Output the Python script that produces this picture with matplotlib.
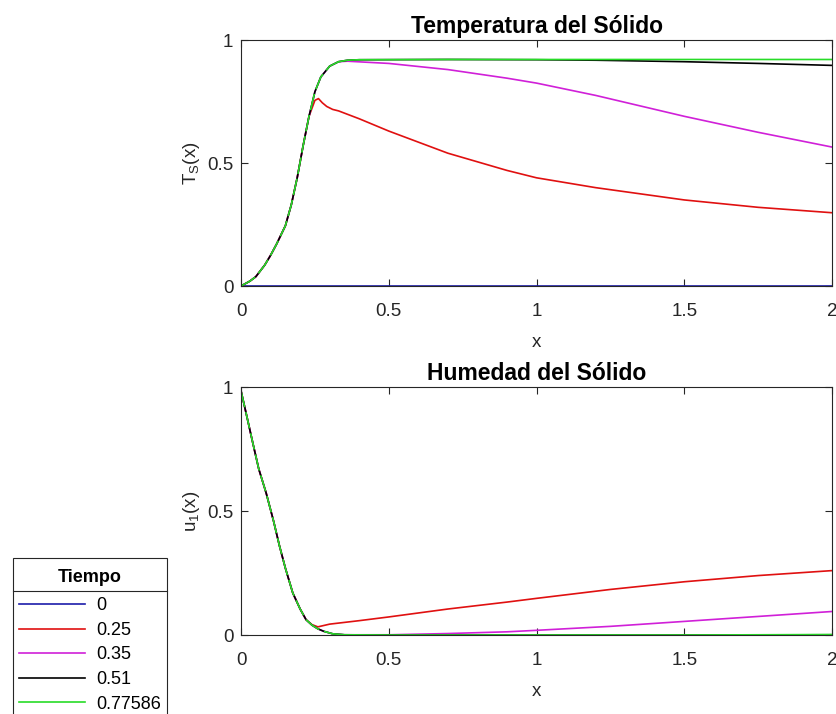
import numpy as np
import matplotlib
matplotlib.use("Agg")
import matplotlib.pyplot as plt
from matplotlib.lines import Line2D

plt.rcParams["font.family"] = ["Liberation Sans", "DejaVu Sans"]
plt.rcParams["mathtext.fontset"] = "custom"
plt.rcParams["mathtext.rm"] = "Liberation Sans"

# --------------------------------------------------
# datos
# --------------------------------------------------
tiempos = ["0", "0.25", "0.35", "0.51", "0.77586"]
colores = ["#1c1caa", "#e01010", "#d020d8", "#000000", "#28dc28"]

# Temperatura del solido
ts_x0 = [0, 2]
ts_y0 = [0, 0]
ts_x1 = [0, 0.03, 0.05, 0.08, 0.1, 0.12, 0.15, 0.17, 0.19, 0.21, 0.23, 0.25, 0.262,
         0.275, 0.29, 0.31, 0.33, 0.4, 0.5, 0.6, 0.7, 0.8, 0.9, 1.0, 1.2, 1.5, 1.75, 2.0]
ts_y1 = [0, 0.02, 0.038, 0.085, 0.125, 0.17, 0.245, 0.33, 0.44, 0.57, 0.69, 0.755, 0.762,
         0.745, 0.73, 0.718, 0.712, 0.68, 0.63, 0.585, 0.54, 0.505, 0.47, 0.44, 0.40, 0.35, 0.32, 0.298]
ts_x2 = [0, 0.03, 0.05, 0.08, 0.1, 0.12, 0.15, 0.17, 0.19, 0.21, 0.23, 0.25, 0.27, 0.3,
         0.33, 0.36, 0.5, 0.7, 0.9, 1.0, 1.2, 1.5, 1.75, 2.0]
ts_y2 = [0, 0.02, 0.038, 0.085, 0.125, 0.17, 0.245, 0.33, 0.44, 0.57, 0.69, 0.79, 0.85, 0.894,
         0.912, 0.914, 0.905, 0.88, 0.845, 0.825, 0.775, 0.69, 0.625, 0.565]
ts_x3 = [0, 0.03, 0.05, 0.08, 0.1, 0.12, 0.15, 0.17, 0.19, 0.21, 0.23, 0.25, 0.27, 0.3,
         0.33, 0.36, 0.4, 0.7, 1.0, 1.2, 1.5, 1.75, 2.0]
ts_y3 = [0, 0.02, 0.038, 0.085, 0.125, 0.17, 0.245, 0.33, 0.44, 0.57, 0.69, 0.79, 0.85, 0.894,
         0.912, 0.918, 0.92, 0.921, 0.92, 0.918, 0.912, 0.905, 0.897]
ts_x4 = [0, 0.03, 0.05, 0.08, 0.1, 0.12, 0.15, 0.17, 0.19, 0.21, 0.23, 0.25, 0.27, 0.3,
         0.33, 0.36, 0.4, 0.7, 1.0, 1.5, 2.0]
ts_y4 = [0, 0.02, 0.038, 0.085, 0.125, 0.17, 0.245, 0.33, 0.44, 0.57, 0.69, 0.79, 0.85, 0.894,
         0.912, 0.918, 0.92, 0.921, 0.921, 0.921, 0.921]

# Humedad del solido
u_x0 = [0, 2]
u_y0 = [1, 1]
u_x1 = [0, 0.02, 0.04, 0.06, 0.085, 0.11, 0.13, 0.15, 0.175, 0.2, 0.22, 0.24, 0.26,
        0.3, 0.4, 0.5, 0.7, 0.9, 1.0, 1.25, 1.5, 1.75, 2.0]
u_y1 = [0.985, 0.88, 0.774, 0.67, 0.573, 0.46, 0.36, 0.27, 0.17, 0.105, 0.062, 0.042, 0.033,
        0.044, 0.058, 0.073, 0.105, 0.133, 0.148, 0.184, 0.215, 0.24, 0.26]
u_x2 = [0, 0.02, 0.04, 0.06, 0.085, 0.11, 0.13, 0.15, 0.175, 0.2, 0.22, 0.24, 0.26, 0.28,
        0.31, 0.35, 0.5, 0.7, 0.9, 1.0, 1.25, 1.5, 1.75, 2.0]
u_y2 = [0.985, 0.88, 0.774, 0.67, 0.573, 0.46, 0.36, 0.27, 0.17, 0.105, 0.062, 0.04, 0.025, 0.015,
        0.005, 0.001, 0.001, 0.006, 0.013, 0.019, 0.035, 0.055, 0.075, 0.095]
u_x3 = [0, 0.02, 0.04, 0.06, 0.085, 0.11, 0.13, 0.15, 0.175, 0.2, 0.22, 0.24, 0.26, 0.28,
        0.31, 0.35, 0.5, 1.0, 1.5, 2.0]
u_y3 = [0.985, 0.88, 0.774, 0.67, 0.573, 0.46, 0.36, 0.27, 0.17, 0.105, 0.062, 0.04, 0.025, 0.015,
        0.005, 0.001, 0, 0, 0, 0.001]
u_x4 = u_x3
u_y4 = [0.985, 0.88, 0.774, 0.67, 0.573, 0.46, 0.36, 0.27, 0.17, 0.105, 0.062, 0.04, 0.025, 0.015,
        0.005, 0.001, 0, 0, 0, 0.002]

ts_series = [(ts_x0, ts_y0), (ts_x1, ts_y1), (ts_x2, ts_y2), (ts_x3, ts_y3), (ts_x4, ts_y4)]
u_series = [(u_x0, u_y0), (u_x1, u_y1), (u_x2, u_y2), (u_x3, u_y3), (u_x4, u_y4)]

# --------------------------------------------------
# figura
# --------------------------------------------------
fig = plt.figure(figsize=(8.37, 7.14), dpi=100)
ax1 = fig.add_axes([0.288, 0.5994, 0.706, 0.3445])
ax2 = fig.add_axes([0.288, 0.1106, 0.706, 0.347])

gris = "#262626"


def dibujar(ax, series, x_corte):
    for i, (xs, ys) in enumerate(series):
        xs = np.asarray(xs, dtype=float)
        ys = np.asarray(ys, dtype=float)
        if i == len(series) - 1:
            # la ultima curva tapa a las otras; se ve discontinua donde se solapan
            m1 = xs <= x_corte
            m2 = xs >= x_corte
            ax.plot(xs[m1], ys[m1], color=colores[i], lw=1.2, dashes=(10, 3))
            ax.plot(xs[m2], ys[m2], color=colores[i], lw=1.2)
        else:
            ax.plot(xs, ys, color=colores[i], lw=1.2, label=tiempos[i])
    ax.set_xlim(0, 2)
    ax.set_ylim(0, 1)
    ax.set_xticks([0, 0.5, 1, 1.5, 2])
    ax.set_xticklabels(["0", "0.5", "1", "1.5", "2"])
    ax.set_yticks([0, 0.5, 1])
    ax.set_yticklabels(["0", "0.5", "1"])
    ax.tick_params(direction="in", top=True, right=True, length=5, width=0.8,
                   labelsize=13.5, colors=gris, labelcolor=gris)
    ax.tick_params(axis="x", pad=12.5)
    ax.tick_params(axis="y", pad=5.5)
    for s in ax.spines.values():
        s.set_color(gris)
        s.set_linewidth(0.8)
    ax.set_xlabel("x", fontsize=13.5, color=gris, labelpad=9.5)


dibujar(ax1, ts_series, 0.33)
dibujar(ax2, u_series, 0.31)

ax1.set_title("Temperatura del Sólido", fontsize=16.5, fontweight="bold", pad=5)
ax2.set_title("Humedad del Sólido", fontsize=16.5, fontweight="bold", pad=5)
ax1.set_ylabel(r"$\mathregular{T_S(x)}$", fontsize=13.5, color=gris, labelpad=4)
ax2.set_ylabel(r"$\mathregular{u_1(x)}$", fontsize=13.5, color=gris, labelpad=4)

handles = [Line2D([], [], color=c, lw=1.2) for c in colores]
leg = fig.legend(handles, tiempos, loc="upper left", bbox_to_anchor=(0.0152, 1 - 558 / 714),
                 title="Tiempo", fontsize=13, title_fontproperties={"weight": "bold", "size": 13},
                 frameon=True, fancybox=False, edgecolor=gris, framealpha=1,
                 handlelength=3.65, handletextpad=0.6, labelspacing=0.42,
                 borderpad=0.35, borderaxespad=0)
leg.get_frame().set_linewidth(0.8)
# mas espacio entre el titulo y las entradas, y titulo un poco mas abajo
leg._legend_box.sep = 11.5
leg.get_title().set_y(-5)

# linea bajo el titulo de la leyenda
fig.canvas.draw()
r = fig.canvas.get_renderer()
bb = leg.get_window_extent(r).transformed(fig.transFigure.inverted())
tb = leg.get_title().get_window_extent(r).transformed(fig.transFigure.inverted())
y_sep = tb.y0 - 5 / 714
fig.add_artist(Line2D([bb.x0, bb.x1], [y_sep, y_sep], transform=fig.transFigure,
                      color=gris, lw=0.8, zorder=10))

fig.savefig("out.png", dpi=100)
